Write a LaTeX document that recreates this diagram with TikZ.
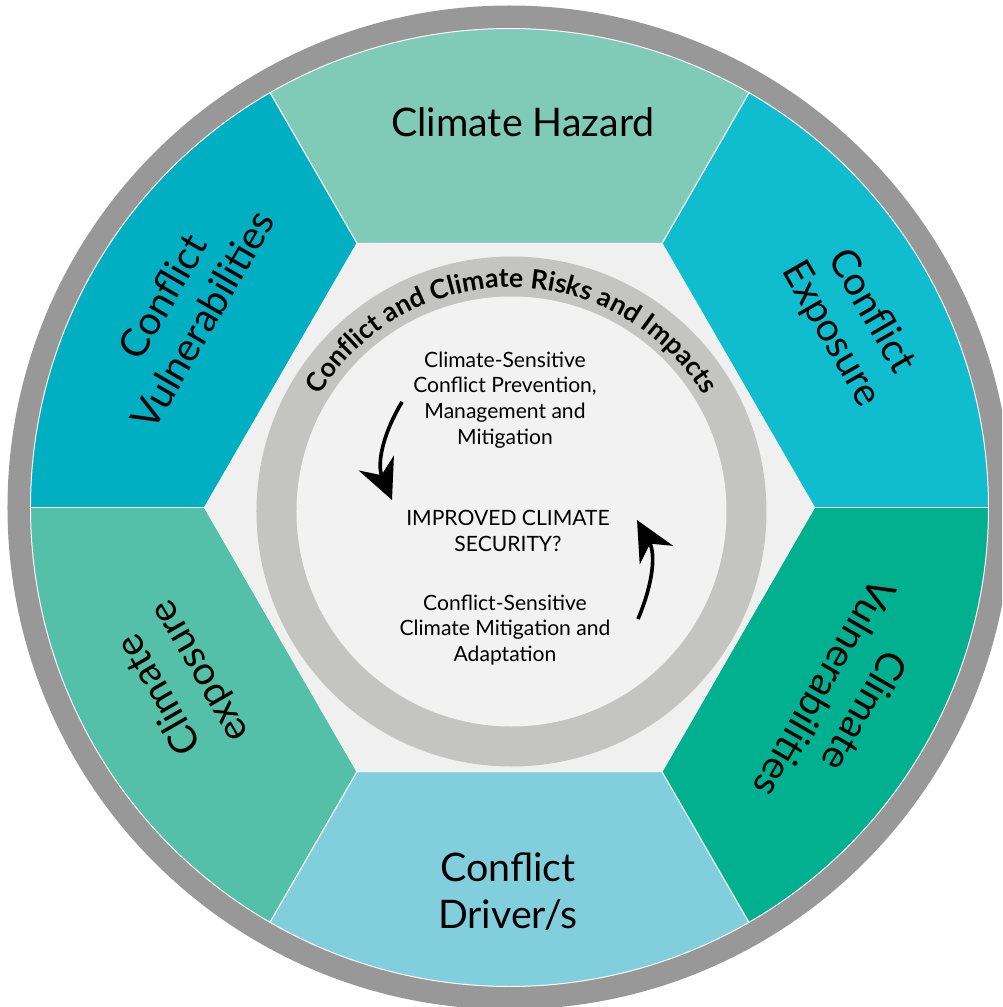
\documentclass[tikz,border=0pt]{standalone}
\usepackage{fontspec}
\setmainfont{Lato}
\usetikzlibrary{arrows.meta,decorations.text}

\definecolor{hazardc}{HTML}{80CBB7}
\definecolor{cexpc}{HTML}{10BDCE}
\definecolor{cvulc}{HTML}{00B08F}
\definecolor{driverc}{HTML}{81CFDC}
\definecolor{clexpc}{HTML}{54C0A8}
\definecolor{fvulc}{HTML}{00AFC1}
\definecolor{rimc}{HTML}{989898}
\definecolor{hexc}{HTML}{F0F0F0}
\definecolor{ringc}{HTML}{C4C4C3}
\definecolor{corec}{HTML}{F2F2F2}

\tikzset{
  sector/.style={draw=white, line width=0.7pt},
  seclabel/.style={align=center, font=\fontsize{28}{33}\selectfont},
  innertext/.style={align=center, font=\fontsize{15}{18.3}\selectfont},
  looparrow/.style={line width=2.6pt, -{Stealth[length=1cm,width=0.95cm]}},
}

\begin{document}
\begin{tikzpicture}[x=0.025cm,y=0.025cm]
                    % 1 unit = 1 px of the 1002x1007 frame, origin at the centre
                    \clip (-509.5,-499.5) rectangle (492.5,507.5);
                    \fill[rimc] (0,0) circle (502);

                    % six sectors between hexagon and rim
                    \foreach \a/\col in {0/cexpc, 60/hazardc, 120/fvulc, 180/clexpc, 240/driverc, 300/cvulc}
                      {
                      \pgfmathsetmacro{\b}{\a+60}
                      \filldraw[sector, fill=\col] (\a:305) -- (\a:479)
                          arc[start angle=\a, end angle=\b, radius=479] -- (\b:305) -- cycle;
                      }
                    \fill[hexc] (0:305) -- (60:305) -- (120:305) -- (180:305) -- (240:305) -- (300:305) -- cycle;

                    % grey ring with its title
                    \coordinate (core) at (2,-4);
                    \fill[ringc] (core) circle (255);
                    \fill[corec] (core) circle (215);
                    \path[decorate, decoration={text along path, text align=center,
                          text={|\fontsize{19}{19}\selectfont\bfseries|Conflict and Climate Risks and Impacts}}]
                          (core) ++(160:224) arc[start angle=160, end angle=20, radius=224];

                    \node[seclabel] (hazard) at (13.5,385.5) {Climate Hazard};
                    \node[seclabel, rotate=-60] (cexp) at (28.4:388) {Conflict\\Exposure};
                    \node[seclabel, rotate=-120] (cvul) at (-29.8:387) {Climate\\Vulnerabilities};
                    \node[seclabel] (driver) at (-1.5,-384) {Conflict\\Driver/s};
                    \node[seclabel, rotate=120] (clexp) at (208:373) {Climate\\exposure};
                    \node[seclabel, rotate=60] (fvul) at (148.6:383) {Conflict\\Vulnerabilities};

                    \node[innertext] (prev) at (-4.5,107.5) {Climate-Sensitive\\Conflict Prevention,\\Management and\\Mitigation};
                    \node[innertext] (secur) at (-1.5,-23.5) {IMPROVED CLIMATE\\SECURITY?};
                    \node[innertext] (adapt) at (-4.5,-122.5) {Conflict-Sensitive\\Climate Mitigation and\\Adaptation};

                    \coordinate (downs) at (-107.5,105.5);
                    \coordinate (downe) at (-117.5,7.5);
                    \coordinate (ups) at (128.5,-111.5);
                    \coordinate (upe) at (127.5,-12.5);
                    \draw[looparrow] (downs) to[out=239, in=113] (downe);
                    \draw[looparrow] (ups) to[out=67, in=-61] (upe);
\end{tikzpicture}
\end{document}
